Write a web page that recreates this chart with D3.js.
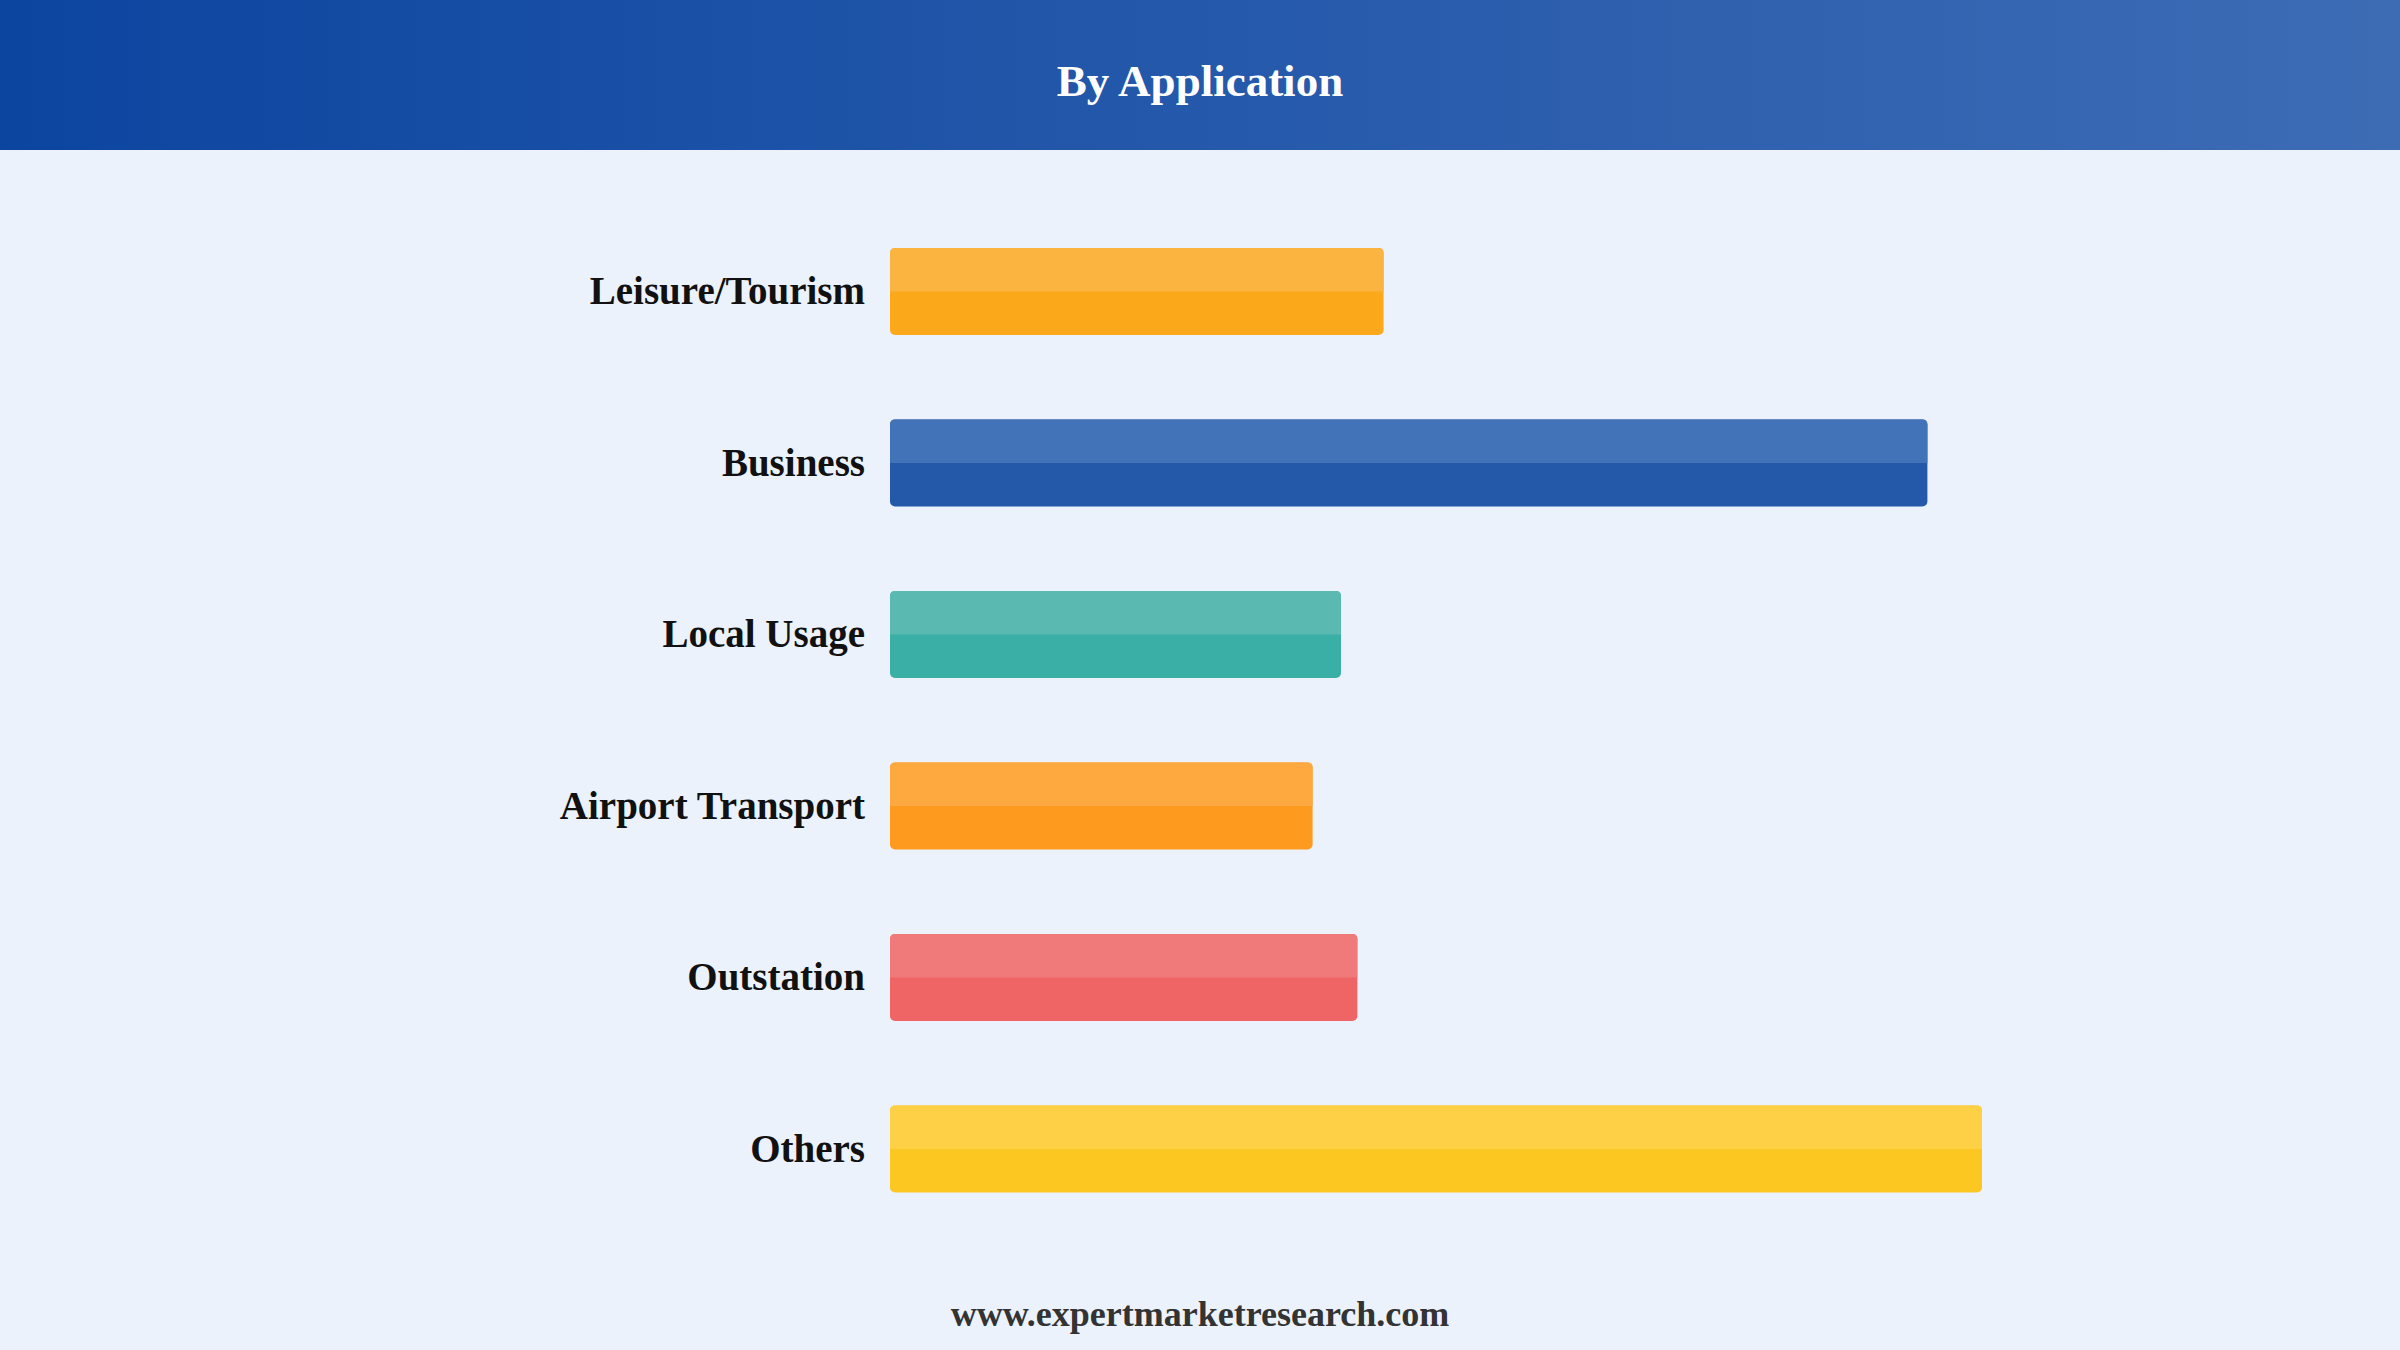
<!DOCTYPE html>
<html>
<head>
<meta charset="utf-8">
<script src="https://cdn.jsdelivr.net/npm/d3@7"></script>
<style>
  html, body { margin: 0; padding: 0; background: #ebf2fc; }
  svg { display: block; }
</style>
</head>
<body>
<div id="viz"></div>
<script>
// data (relative lengths, Others = 100)
var categories = ["Leisure/Tourism", "Business", "Local Usage", "Airport Transport", "Outstation", "Others"];
var values = [45.2, 95.0, 41.3, 38.7, 42.8, 100];
var baseColors = ["#fba91a", "#2458a9", "#3aafa5", "#fe9a1e", "#ef6464", "#fdc721"];
var topColors = ["#fbb43f", "#4272b7", "#5ab9b0", "#fea840", "#f07a7a", "#fdd045"];

var W = 2400, H = 1350;

var svg = d3.select("#viz")
    .append("svg")
    .attr("width", W)
    .attr("height", H);

// header band with gradient
var defs = svg.append("defs");
var grad = defs.append("linearGradient")
    .attr("id", "hdr")
    .attr("x1", "0%").attr("x2", "100%")
    .attr("y1", "0%").attr("y2", "0%");
grad.append("stop").attr("offset", "0%").attr("stop-color", "#0c45a0");
grad.append("stop").attr("offset", "100%").attr("stop-color", "#3d6cb5");

svg.append("rect")
    .attr("width", W)
    .attr("height", H)
    .attr("fill", "#ebf2fc");

svg.append("rect")
    .attr("width", W)
    .attr("height", 150)
    .attr("fill", "url(#hdr)");

svg.append("text")
    .attr("x", W / 2)
    .attr("y", 96)
    .attr("text-anchor", "middle")
    .attr("font-family", "'Liberation Serif', 'Times New Roman', serif")
    .attr("font-weight", "bold")
    .attr("font-size", 45)
    .attr("fill", "#ffffff")
    .text("By Application");

var x = d3.scaleLinear()
    .domain([0, 100])
    .range([890, 1982]);

var y = d3.scaleBand()
    .domain(categories)
    .range([248, 1192.5])
    .paddingInner(0.4927)
    .paddingOuter(0);

var gs = svg.selectAll("g.bar")
    .data(categories)
    .enter()
    .append("g")
    .attr("class", "bar")
    .attr("transform", function (d) {
        return "translate(0," + y(d) + ")";
    });

// full bar (darker bottom colour)
gs.append("rect")
    .attr("x", x(0))
    .attr("width", function (d, i) { return x(values[i]) - x(0); })
    .attr("height", y.bandwidth())
    .attr("rx", 5)
    .attr("fill", function (d, i) { return baseColors[i]; });

// lighter upper half
gs.append("path")
    .attr("d", function (d, i) {
        var x0 = x(0), x1 = x(values[i]), h = y.bandwidth() / 2, r = 5;
        return "M" + x0 + "," + h +
            " L" + x0 + "," + r +
            " Q" + x0 + ",0 " + (x0 + r) + ",0" +
            " L" + (x1 - r) + ",0" +
            " Q" + x1 + ",0 " + x1 + "," + r +
            " L" + x1 + "," + h + " Z";
    })
    .attr("fill", function (d, i) { return topColors[i]; });

gs.append("text")
    .attr("x", x(0) - 25)
    .attr("y", y.bandwidth() / 2)
    .attr("dy", "0.33em")
    .attr("text-anchor", "end")
    .attr("font-family", "'Liberation Serif', 'Times New Roman', serif")
    .attr("font-weight", "bold")
    .attr("font-size", 39)
    .attr("fill", "#111111")
    .text(function (d) { return d; });

svg.append("text")
    .attr("x", W / 2)
    .attr("y", 1326)
    .attr("text-anchor", "middle")
    .attr("font-family", "'Liberation Serif', 'Times New Roman', serif")
    .attr("font-weight", "bold")
    .attr("font-size", 36)
    .attr("fill", "#333333")
    .text("www.expertmarketresearch.com");
</script>
</body>
</html>
